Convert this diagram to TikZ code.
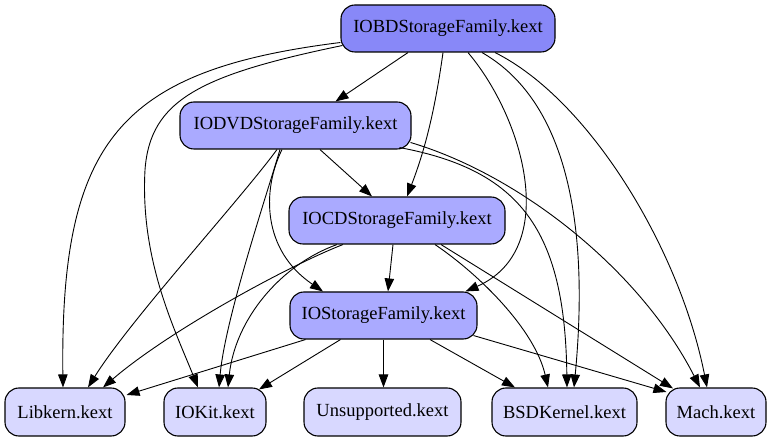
\documentclass[tikz,border=0pt]{standalone}
\usepackage{fontspec}
\setmainfont{Liberation Serif}
\usetikzlibrary{arrows.meta,calc}
\definecolor{topblue}{RGB}{136,136,248}
\definecolor{midblue}{RGB}{170,170,255}
\definecolor{lowblue}{RGB}{216,216,255}
\begin{document}
\begin{tikzpicture}[x=1pt,y=-1pt,
  kext/.style={draw=black, line width=1.1pt, rounded corners=14pt, minimum height=47pt, inner sep=0pt, font=\fontsize{18.5}{22}\selectfont},
  edge/.style={line width=0.9pt, -{Triangle[length=13pt,width=9.5pt]}}]
\useasboundingbox (0,0) rectangle (772,443);
% nodes
\node[kext, fill=topblue, minimum width=214pt] (bd) at (448,28.5) {IOBDStorageFamily.kext};
\node[kext, fill=midblue, minimum width=231pt] (dvd) at (295.5,125.5) {IODVDStorageFamily.kext};
\node[kext, fill=midblue, minimum width=216pt] (cd) at (397,220.5) {IOCDStorageFamily.kext};
\node[kext, fill=midblue, minimum width=187pt] (ios) at (383.5,315.5) {IOStorageFamily.kext};
\node[kext, fill=lowblue, minimum width=120pt, minimum height=48pt] (lib) at (65,412) {Libkern.kext};
\node[kext, fill=lowblue, minimum width=102pt, minimum height=48pt] (kit) at (215,412) {IOKit.kext};
\node[kext, fill=lowblue, minimum width=157pt, minimum height=48pt] (uns) at (382.5,412) {Unsupported.kext};
\node[kext, fill=lowblue, minimum width=145pt, minimum height=48pt] (bsd) at (564.5,412) {BSDKernel.kext};
\node[kext, fill=lowblue, minimum width=100pt, minimum height=48pt] (mach) at (716,412) {Mach.kext};
% edges from IOBDStorageFamily
\draw[edge] ($(bd.south)+(-40,0)$) -- ($(dvd.north)+(40,0)$);
\draw[edge] ($(bd.west)+(0,14)$) .. controls (120,70) and (60,140) .. ($(lib.north)+(-2,0)$);
\draw[edge] ($(bd.west)+(2,17)$) .. controls (200,75) and (150,100) .. (145,170) .. controls (140,260) and (175,330) .. ($(kit.north)+(-17,0)$);
\draw[edge] ($(bd.south)+(-5,0)$) .. controls (435,110) and (425,150) .. ($(cd.north)+(10,0)$);
\draw[edge] ($(bd.south)+(20,0)$) .. controls (525,120) and (560,250) .. ($(ios.north)+(82,0)$);
\draw[edge] ($(bd.south)+(34,0)$) .. controls (565,100) and (590,220) .. ($(bsd.north)+(9.5,0)$);
\draw[edge] ($(bd.south)+(47,0)$) .. controls (590,100) and (680,250) .. ($(mach.north)+(-9,0)$);
% edges from IODVDStorageFamily
\draw[edge] ($(dvd.south)+(-18.5,0)$) .. controls (240,200) and (130,320) .. ($(lib.north)+(23,0)$);
\draw[edge] ($(dvd.south)+(-15.5,0)$) .. controls (265,200) and (225,320) .. ($(kit.north)+(4,0)$);
\draw[edge] ($(dvd.south)+(24.5,0)$) -- ($(cd.north)+(-25,0)$);
\draw[edge] ($(dvd.south)+(-13.5,0)$) .. controls (262,190) and (262,250) .. ($(ios.north)+(-60.5,0)$);
\draw[edge] ($(dvd.south)+(104,-2)$) .. controls (520,170) and (565,230) .. ($(bsd.north)+(2.5,0)$);
\draw[edge] ($(dvd.east)+(-1,17)$) .. controls (520,175) and (640,270) .. ($(mach.north)+(-16,0)$);
% edges from IOCDStorageFamily
\draw[edge] ($(cd.south)+(-54,0)$) .. controls (290,265) and (170,330) .. ($(lib.north)+(38,0)$);
\draw[edge] ($(cd.south)+(-60,0)$) .. controls (280,265) and (235,320) .. ($(kit.north)+(13,0)$);
\draw[edge] ($(cd.south)+(-4,0)$) -- ($(ios.north)+(4.5,0)$);
\draw[edge] ($(cd.south)+(38,0)$) .. controls (480,275) and (535,330) .. ($(bsd.north)+(-16.5,0)$);
\draw[edge] ($(cd.south)+(44,0)$) -- ($(mach.north)+(-43,1)$);
% edges from IOStorageFamily
\draw[edge] ($(ios.south)+(-78,0)$) -- ($(lib.east)+(1,-17)$);
\draw[edge] ($(ios.south)+(-43,0)$) -- ($(kit.north)+(44,2)$);
\draw[edge] (ios.south) -- (ios.south |- uns.north);
\draw[edge] ($(ios.south)+(46.5,0)$) -- ($(bsd.north)+(-49.5,0)$);
\draw[edge] ($(ios.south east)+(-4,-4)$) -- ($(mach.west)+(1,-20)$);
\end{tikzpicture}
\end{document}
